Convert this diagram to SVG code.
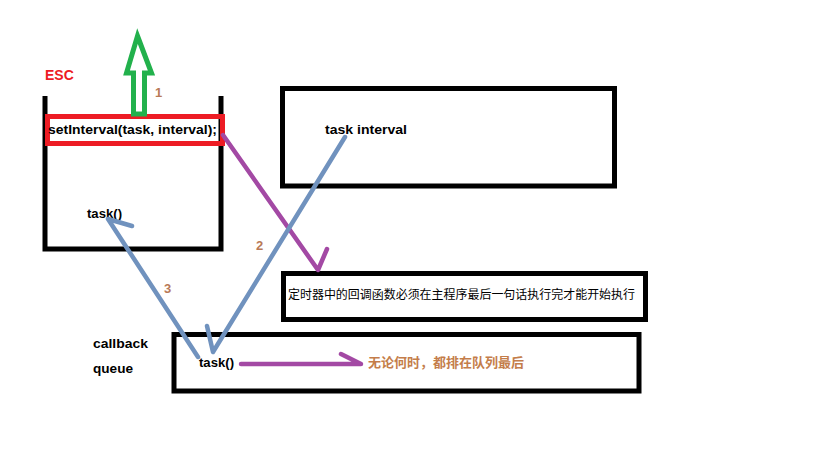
<svg xmlns="http://www.w3.org/2000/svg" width="819" height="460" viewBox="0 0 819 460">
  <style>
    .box { fill: none; stroke: #000; stroke-width: 5; }
    .lbl { font-family: "Liberation Sans", "Noto Sans CJK SC", sans-serif; font-weight: bold; font-size: 13.5px; fill: #000; }
    .num { font-family: "Liberation Sans", sans-serif; font-weight: bold; font-size: 13px; fill: #b97a57; }
    .cjk { font-family: "Noto Sans CJK SC", sans-serif; font-size: 12px; fill: #000; }
    .note { font-family: "Noto Sans CJK SC", sans-serif; font-weight: bold; font-size: 13px; fill: #c47d4a; }
    .blue { fill: none; stroke: #7092be; stroke-width: 4.5; stroke-linecap: round; stroke-linejoin: round; }
    .purple { fill: none; stroke: #a349a4; stroke-width: 4.5; stroke-linecap: round; stroke-linejoin: round; }
  </style>
  <rect width="819" height="460" fill="#fff"/>

  <!-- call stack -->
  <g id="stack">
    <text x="45" y="80" style="font-family:'Liberation Sans',sans-serif;font-weight:bold;font-size:14px;fill:#ed1c24">ESC</text>
    <polyline class="box" points="45,96 45,249 221,249 221,96"/>
    <text class="lbl" x="87" y="218" textLength="35" lengthAdjust="spacingAndGlyphs">task()</text>
  </g>

  <!-- setInterval call -->
  <g id="setinterval">
    <rect x="47.5" y="116.5" width="175" height="27" fill="none" stroke="#ed1c24" stroke-width="5"/>
    <text class="lbl" x="48" y="134" textLength="169" lengthAdjust="spacingAndGlyphs">setInterval(task, interval);</text>
  </g>

  <!-- pop-off arrow -->
  <g id="pop-arrow">
    <polygon points="137.5,36 151.5,73 144.5,73 144.5,114 133.5,114 133.5,73 126.5,73" fill="none" stroke="#22b14c" stroke-width="5" stroke-linejoin="miter"/>
    <text class="num" x="155" y="97">1</text>
  </g>

  <!-- timer -->
  <g id="timer">
    <rect class="box" x="282.5" y="88.5" width="332" height="97.5"/>
    <text class="lbl" x="325" y="134" textLength="82" lengthAdjust="spacingAndGlyphs">task interval</text>
  </g>

  <!-- note about callback order -->
  <g id="rule-note">
    <rect class="box" x="283.5" y="273.5" width="362" height="46"/>
    <text class="cjk" x="288" y="299" textLength="347" lengthAdjust="spacingAndGlyphs">定时器中的回调函数必须在主程序最后一句话执行完才能开始执行</text>
  </g>

  <!-- callback queue -->
  <g id="callback-queue">
    <text class="lbl" x="93" y="348" textLength="55" lengthAdjust="spacingAndGlyphs">callback</text>
    <text class="lbl" x="93" y="373" textLength="40" lengthAdjust="spacingAndGlyphs">queue</text>
    <rect class="box" x="174" y="334.5" width="465" height="56.5"/>
    <text class="lbl" x="199" y="367" textLength="35" lengthAdjust="spacingAndGlyphs">task()</text>
    <text class="note" x="368" y="367" textLength="156" lengthAdjust="spacingAndGlyphs">无论何时，都排在队列最后</text>
  </g>

  <!-- connectors -->
  <g id="connectors">
    <!-- 2: setInterval registers timer -->
    <polyline class="purple" points="223,135 318,270 327,249"/>
    <text class="num" x="256" y="250">2</text>
    <!-- timer pushes task into queue -->
    <polyline class="blue" points="345,137 213,352 207,326"/>
    <!-- 3: task moves back onto stack -->
    <polyline class="blue" points="198,357 108,219 132,226"/>
    <text class="num" x="164" y="293">3</text>
    <!-- queued task goes to the end -->
    <polyline class="purple" points="241,364 361,364 341,354"/>
  </g>
</svg>
